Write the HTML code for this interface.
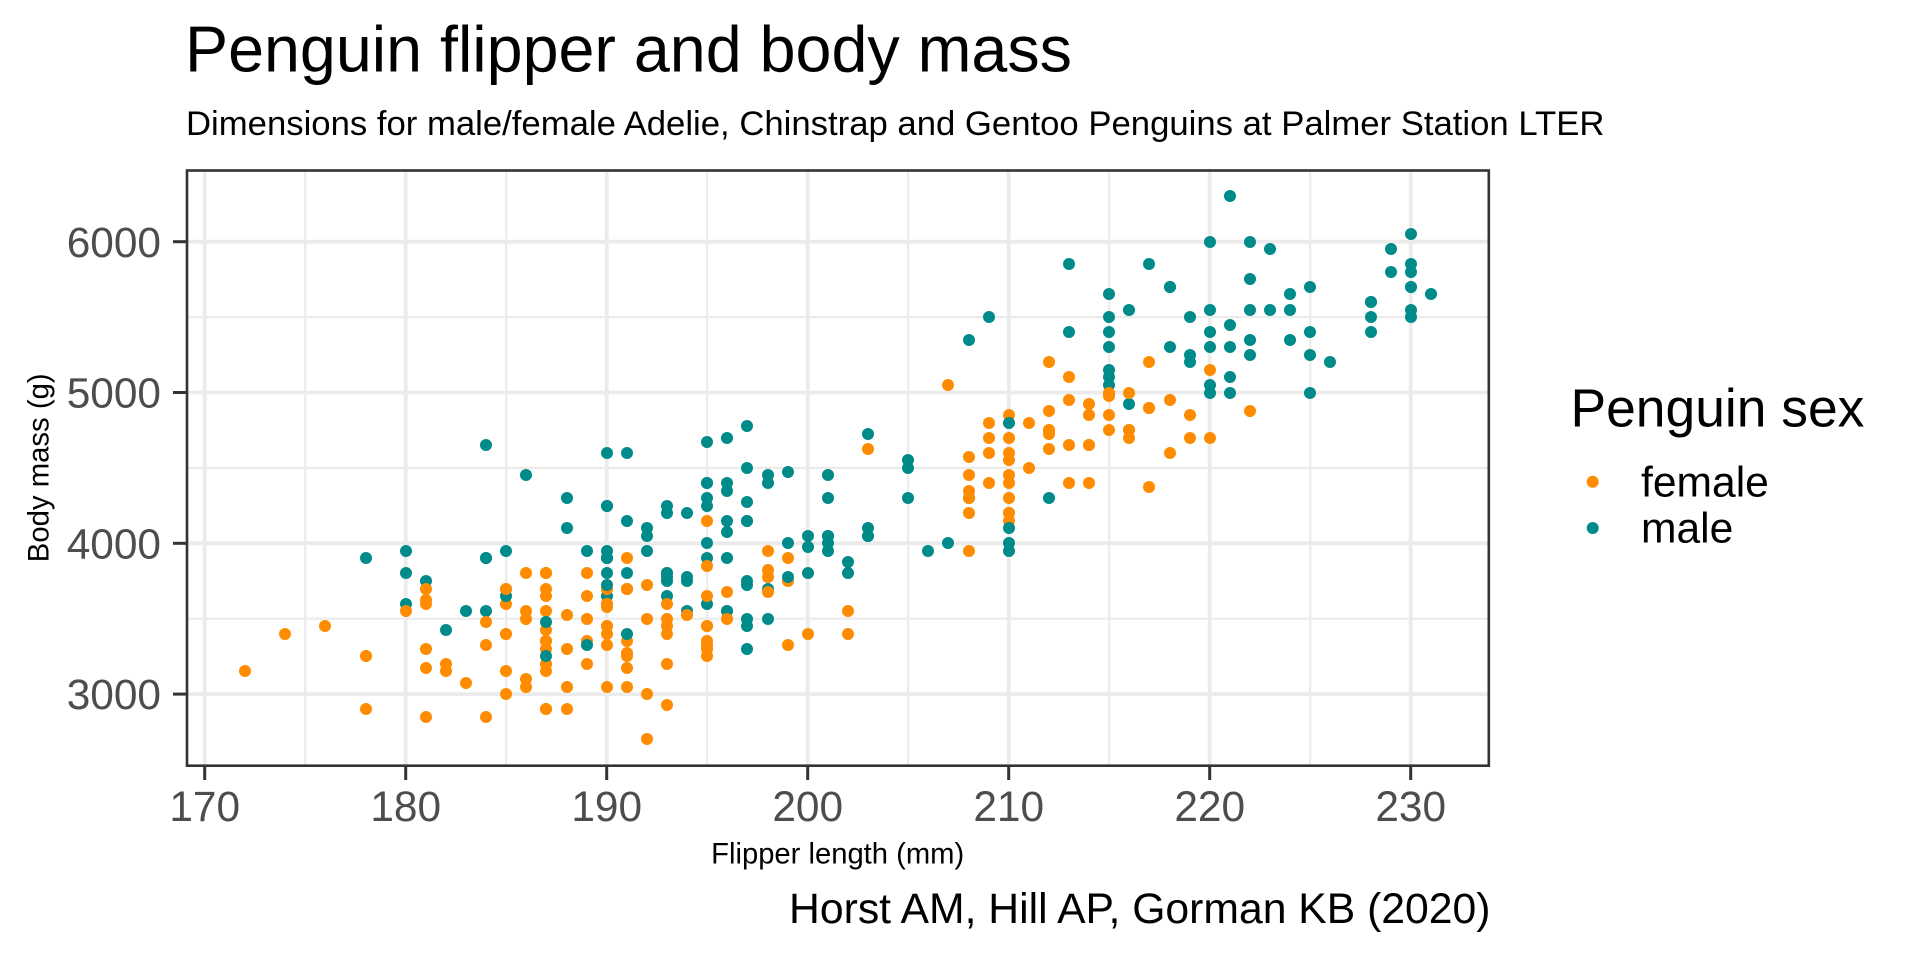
<!DOCTYPE html>
<html><head><meta charset="utf-8"><style>
html,body{margin:0;padding:0;background:#fff;}
#c{position:relative;width:1920px;height:960px;overflow:hidden;background:#fff;font-family:"Liberation Sans",Arial,sans-serif;}
#c svg{position:absolute;left:0;top:0;}
#pts{position:absolute;left:0;top:0;width:1920px;height:960px;}
#pts i{position:absolute;display:block;width:12px;height:12px;border-radius:50%;left:calc((var(--x) - 170)*20.1px + 198.7px);top:calc(688.1px - (var(--y) - 3000)*0.1508px);}
#pts i.f{background:#FF8C00}
#pts i.m{background:#008B8B}
</style></head><body><div id="c">
<svg width="1920" height="960" viewBox="0 0 1920 960" xmlns="http://www.w3.org/2000/svg">
<rect x="186" y="169.5" width="1303.5" height="597" fill="#fff"/>
<g stroke="#EBEBEB" stroke-width="2.2">
<line x1="305.2" y1="169" x2="305.2" y2="766"/><line x1="506.2" y1="169" x2="506.2" y2="766"/><line x1="707.2" y1="169" x2="707.2" y2="766"/><line x1="908.2" y1="169" x2="908.2" y2="766"/><line x1="1109.2" y1="169" x2="1109.2" y2="766"/><line x1="1310.2" y1="169" x2="1310.2" y2="766"/>
<line x1="186" y1="618.7" x2="1489" y2="618.7"/><line x1="186" y1="467.9" x2="1489" y2="467.9"/><line x1="186" y1="317.1" x2="1489" y2="317.1"/>
</g>
<g stroke="#EBEBEB" stroke-width="3.8">
<line x1="204.7" y1="169" x2="204.7" y2="766"/><line x1="405.7" y1="169" x2="405.7" y2="766"/><line x1="606.7" y1="169" x2="606.7" y2="766"/><line x1="807.7" y1="169" x2="807.7" y2="766"/><line x1="1008.7" y1="169" x2="1008.7" y2="766"/><line x1="1209.7" y1="169" x2="1209.7" y2="766"/><line x1="1410.7" y1="169" x2="1410.7" y2="766"/>
<line x1="186" y1="694.1" x2="1489" y2="694.1"/><line x1="186" y1="543.3" x2="1489" y2="543.3"/><line x1="186" y1="392.5" x2="1489" y2="392.5"/><line x1="186" y1="241.7" x2="1489" y2="241.7"/>
</g>
</svg>
<div id="pts">
<i class="m" style="--x:181;--y:3750"></i><i class="f" style="--x:186;--y:3800"></i><i class="f" style="--x:195;--y:3250"></i><i class="f" style="--x:193;--y:3450"></i><i class="m" style="--x:190;--y:3650"></i><i class="f" style="--x:181;--y:3625"></i><i class="m" style="--x:195;--y:4675"></i><i class="f" style="--x:182;--y:3200"></i><i class="m" style="--x:191;--y:3800"></i><i class="m" style="--x:198;--y:4400"></i><i class="f" style="--x:185;--y:3700"></i><i class="f" style="--x:195;--y:3450"></i><i class="m" style="--x:197;--y:4500"></i><i class="f" style="--x:184;--y:3325"></i><i class="m" style="--x:194;--y:4200"></i><i class="f" style="--x:174;--y:3400"></i><i class="m" style="--x:180;--y:3600"></i><i class="f" style="--x:189;--y:3800"></i><i class="m" style="--x:185;--y:3950"></i><i class="m" style="--x:180;--y:3800"></i><i class="f" style="--x:187;--y:3800"></i><i class="m" style="--x:183;--y:3550"></i><i class="f" style="--x:187;--y:3200"></i><i class="f" style="--x:172;--y:3150"></i><i class="m" style="--x:180;--y:3950"></i><i class="f" style="--x:178;--y:3250"></i><i class="m" style="--x:178;--y:3900"></i><i class="f" style="--x:188;--y:3300"></i><i class="m" style="--x:184;--y:3900"></i><i class="f" style="--x:195;--y:3325"></i><i class="m" style="--x:196;--y:4150"></i><i class="m" style="--x:190;--y:3950"></i><i class="f" style="--x:180;--y:3550"></i><i class="f" style="--x:181;--y:3300"></i><i class="m" style="--x:184;--y:4650"></i><i class="f" style="--x:182;--y:3150"></i><i class="m" style="--x:195;--y:3900"></i><i class="f" style="--x:186;--y:3100"></i><i class="m" style="--x:196;--y:4400"></i><i class="f" style="--x:185;--y:3000"></i><i class="m" style="--x:190;--y:4600"></i><i class="m" style="--x:182;--y:3425"></i><i class="f" style="--x:190;--y:3450"></i><i class="m" style="--x:191;--y:4150"></i><i class="f" style="--x:186;--y:3500"></i><i class="m" style="--x:188;--y:4300"></i><i class="f" style="--x:190;--y:3450"></i><i class="m" style="--x:200;--y:4050"></i><i class="f" style="--x:187;--y:2900"></i><i class="m" style="--x:191;--y:3700"></i><i class="f" style="--x:186;--y:3550"></i><i class="m" style="--x:193;--y:3800"></i><i class="f" style="--x:181;--y:2850"></i><i class="m" style="--x:194;--y:3750"></i><i class="f" style="--x:185;--y:3150"></i><i class="m" style="--x:195;--y:4400"></i><i class="f" style="--x:185;--y:3600"></i><i class="m" style="--x:192;--y:4050"></i><i class="f" style="--x:184;--y:2850"></i><i class="m" style="--x:192;--y:3950"></i><i class="f" style="--x:195;--y:3350"></i><i class="m" style="--x:188;--y:4100"></i><i class="f" style="--x:190;--y:3050"></i><i class="m" style="--x:198;--y:4450"></i><i class="f" style="--x:190;--y:3600"></i><i class="m" style="--x:190;--y:3900"></i><i class="f" style="--x:196;--y:3550"></i><i class="m" style="--x:197;--y:4150"></i><i class="f" style="--x:190;--y:3700"></i><i class="m" style="--x:195;--y:4250"></i><i class="f" style="--x:191;--y:3700"></i><i class="m" style="--x:184;--y:3900"></i><i class="f" style="--x:187;--y:3550"></i><i class="m" style="--x:195;--y:4000"></i><i class="f" style="--x:189;--y:3200"></i><i class="m" style="--x:196;--y:4700"></i><i class="f" style="--x:187;--y:3800"></i><i class="m" style="--x:193;--y:4200"></i><i class="f" style="--x:191;--y:3350"></i><i class="m" style="--x:194;--y:3550"></i><i class="m" style="--x:190;--y:3800"></i><i class="f" style="--x:189;--y:3500"></i><i class="m" style="--x:189;--y:3950"></i><i class="f" style="--x:190;--y:3600"></i><i class="f" style="--x:202;--y:3550"></i><i class="m" style="--x:205;--y:4300"></i><i class="f" style="--x:185;--y:3400"></i><i class="m" style="--x:186;--y:4450"></i><i class="f" style="--x:187;--y:3300"></i><i class="m" style="--x:208;--y:4300"></i><i class="f" style="--x:190;--y:3700"></i><i class="m" style="--x:196;--y:4350"></i><i class="f" style="--x:178;--y:2900"></i><i class="m" style="--x:192;--y:4100"></i><i class="f" style="--x:192;--y:3725"></i><i class="m" style="--x:203;--y:4725"></i><i class="f" style="--x:183;--y:3075"></i><i class="m" style="--x:190;--y:4250"></i><i class="f" style="--x:193;--y:2925"></i><i class="m" style="--x:184;--y:3550"></i><i class="f" style="--x:199;--y:3750"></i><i class="m" style="--x:190;--y:3900"></i><i class="f" style="--x:181;--y:3175"></i><i class="m" style="--x:197;--y:4775"></i><i class="f" style="--x:198;--y:3825"></i><i class="m" style="--x:191;--y:4600"></i><i class="f" style="--x:193;--y:3200"></i><i class="m" style="--x:197;--y:4275"></i><i class="f" style="--x:191;--y:3900"></i><i class="m" style="--x:196;--y:4075"></i><i class="f" style="--x:188;--y:2900"></i><i class="m" style="--x:199;--y:3775"></i><i class="f" style="--x:189;--y:3350"></i><i class="m" style="--x:189;--y:3325"></i><i class="f" style="--x:187;--y:3150"></i><i class="m" style="--x:198;--y:3500"></i><i class="f" style="--x:176;--y:3450"></i><i class="m" style="--x:202;--y:3875"></i><i class="f" style="--x:186;--y:3050"></i><i class="m" style="--x:199;--y:4000"></i><i class="f" style="--x:191;--y:3275"></i><i class="m" style="--x:195;--y:4300"></i><i class="f" style="--x:191;--y:3050"></i><i class="m" style="--x:210;--y:4000"></i><i class="f" style="--x:190;--y:3325"></i><i class="m" style="--x:197;--y:3500"></i><i class="f" style="--x:193;--y:3500"></i><i class="m" style="--x:199;--y:4475"></i><i class="f" style="--x:187;--y:3425"></i><i class="m" style="--x:190;--y:3900"></i><i class="f" style="--x:191;--y:3175"></i><i class="m" style="--x:200;--y:3975"></i><i class="f" style="--x:185;--y:3400"></i><i class="m" style="--x:193;--y:4250"></i><i class="f" style="--x:193;--y:3400"></i><i class="m" style="--x:187;--y:3475"></i><i class="f" style="--x:188;--y:3050"></i><i class="m" style="--x:190;--y:3725"></i><i class="f" style="--x:192;--y:3000"></i><i class="m" style="--x:185;--y:3650"></i><i class="m" style="--x:190;--y:4250"></i><i class="f" style="--x:184;--y:3475"></i><i class="f" style="--x:195;--y:3450"></i><i class="m" style="--x:193;--y:3750"></i><i class="f" style="--x:187;--y:3700"></i><i class="m" style="--x:201;--y:4000"></i>
<i class="f" style="--x:211;--y:4500"></i><i class="m" style="--x:230;--y:5700"></i><i class="f" style="--x:210;--y:4450"></i><i class="m" style="--x:218;--y:5700"></i><i class="m" style="--x:215;--y:5400"></i><i class="f" style="--x:210;--y:4550"></i><i class="f" style="--x:211;--y:4800"></i><i class="m" style="--x:219;--y:5200"></i><i class="f" style="--x:209;--y:4400"></i><i class="m" style="--x:215;--y:5150"></i><i class="f" style="--x:214;--y:4650"></i><i class="m" style="--x:216;--y:5550"></i><i class="f" style="--x:214;--y:4650"></i><i class="m" style="--x:213;--y:5850"></i><i class="f" style="--x:210;--y:4200"></i><i class="m" style="--x:217;--y:5850"></i><i class="f" style="--x:210;--y:4150"></i><i class="m" style="--x:221;--y:6300"></i><i class="f" style="--x:209;--y:4800"></i><i class="m" style="--x:222;--y:5350"></i><i class="m" style="--x:218;--y:5700"></i><i class="f" style="--x:215;--y:5000"></i><i class="f" style="--x:213;--y:4400"></i><i class="m" style="--x:215;--y:5050"></i><i class="f" style="--x:215;--y:5000"></i><i class="m" style="--x:215;--y:5100"></i><i class="m" style="--x:215;--y:5650"></i><i class="f" style="--x:210;--y:4600"></i><i class="m" style="--x:220;--y:5550"></i><i class="m" style="--x:222;--y:5250"></i><i class="f" style="--x:209;--y:4700"></i><i class="f" style="--x:207;--y:5050"></i><i class="m" style="--x:230;--y:6050"></i><i class="f" style="--x:220;--y:5150"></i><i class="m" style="--x:220;--y:5400"></i><i class="f" style="--x:213;--y:4950"></i><i class="m" style="--x:219;--y:5250"></i><i class="f" style="--x:208;--y:4350"></i><i class="m" style="--x:208;--y:5350"></i><i class="f" style="--x:208;--y:3950"></i><i class="m" style="--x:225;--y:5700"></i><i class="f" style="--x:210;--y:4300"></i><i class="m" style="--x:216;--y:4750"></i><i class="m" style="--x:222;--y:5550"></i><i class="f" style="--x:217;--y:4900"></i><i class="f" style="--x:210;--y:4200"></i><i class="m" style="--x:225;--y:5400"></i><i class="f" style="--x:213;--y:5100"></i><i class="m" style="--x:215;--y:5300"></i><i class="f" style="--x:210;--y:4850"></i><i class="m" style="--x:220;--y:5300"></i><i class="f" style="--x:210;--y:4400"></i><i class="m" style="--x:225;--y:5000"></i><i class="f" style="--x:217;--y:4900"></i><i class="m" style="--x:220;--y:5050"></i><i class="f" style="--x:208;--y:4300"></i><i class="m" style="--x:220;--y:5000"></i><i class="f" style="--x:208;--y:4450"></i><i class="m" style="--x:224;--y:5550"></i><i class="f" style="--x:208;--y:4200"></i><i class="m" style="--x:221;--y:5300"></i><i class="f" style="--x:214;--y:4400"></i><i class="m" style="--x:231;--y:5650"></i><i class="f" style="--x:219;--y:4700"></i><i class="m" style="--x:230;--y:5700"></i><i class="m" style="--x:229;--y:5800"></i><i class="f" style="--x:220;--y:4700"></i><i class="m" style="--x:223;--y:5550"></i><i class="f" style="--x:216;--y:4750"></i><i class="m" style="--x:221;--y:5000"></i><i class="m" style="--x:221;--y:5100"></i><i class="f" style="--x:217;--y:5200"></i><i class="f" style="--x:216;--y:4700"></i><i class="m" style="--x:230;--y:5800"></i><i class="f" style="--x:209;--y:4600"></i><i class="m" style="--x:220;--y:6000"></i><i class="f" style="--x:215;--y:4750"></i><i class="m" style="--x:223;--y:5950"></i><i class="f" style="--x:212;--y:4625"></i><i class="m" style="--x:221;--y:5450"></i><i class="f" style="--x:212;--y:4725"></i><i class="m" style="--x:224;--y:5350"></i><i class="f" style="--x:212;--y:4750"></i><i class="m" style="--x:228;--y:5600"></i><i class="f" style="--x:218;--y:4600"></i><i class="m" style="--x:218;--y:5300"></i><i class="f" style="--x:212;--y:4875"></i><i class="m" style="--x:230;--y:5550"></i><i class="f" style="--x:218;--y:4950"></i><i class="m" style="--x:228;--y:5400"></i><i class="f" style="--x:212;--y:4750"></i><i class="m" style="--x:224;--y:5650"></i><i class="f" style="--x:214;--y:4850"></i><i class="m" style="--x:226;--y:5200"></i><i class="m" style="--x:216;--y:4925"></i><i class="f" style="--x:222;--y:4875"></i><i class="f" style="--x:203;--y:4625"></i><i class="m" style="--x:225;--y:5250"></i><i class="f" style="--x:219;--y:4850"></i><i class="m" style="--x:228;--y:5600"></i><i class="f" style="--x:215;--y:4975"></i><i class="m" style="--x:228;--y:5500"></i><i class="m" style="--x:215;--y:5500"></i><i class="f" style="--x:210;--y:4700"></i><i class="m" style="--x:219;--y:5500"></i><i class="f" style="--x:208;--y:4575"></i><i class="m" style="--x:209;--y:5500"></i><i class="f" style="--x:216;--y:5000"></i><i class="m" style="--x:229;--y:5950"></i><i class="f" style="--x:213;--y:4650"></i><i class="m" style="--x:230;--y:5500"></i><i class="f" style="--x:217;--y:4375"></i><i class="m" style="--x:230;--y:5850"></i><i class="m" style="--x:222;--y:6000"></i><i class="f" style="--x:214;--y:4925"></i><i class="f" style="--x:215;--y:4850"></i><i class="m" style="--x:222;--y:5750"></i><i class="f" style="--x:212;--y:5200"></i><i class="m" style="--x:213;--y:5400"></i>
<i class="f" style="--x:192;--y:3500"></i><i class="m" style="--x:196;--y:3900"></i><i class="m" style="--x:193;--y:3650"></i><i class="f" style="--x:188;--y:3525"></i><i class="m" style="--x:197;--y:3725"></i><i class="f" style="--x:198;--y:3950"></i><i class="f" style="--x:178;--y:3250"></i><i class="m" style="--x:197;--y:3750"></i><i class="f" style="--x:195;--y:4150"></i><i class="m" style="--x:198;--y:3700"></i><i class="f" style="--x:193;--y:3800"></i><i class="m" style="--x:194;--y:3775"></i><i class="f" style="--x:185;--y:3700"></i><i class="m" style="--x:201;--y:4050"></i><i class="f" style="--x:190;--y:3575"></i><i class="m" style="--x:201;--y:4050"></i><i class="m" style="--x:197;--y:3300"></i><i class="f" style="--x:181;--y:3700"></i><i class="f" style="--x:190;--y:3450"></i><i class="m" style="--x:195;--y:4400"></i><i class="f" style="--x:181;--y:3600"></i><i class="m" style="--x:191;--y:3400"></i><i class="f" style="--x:187;--y:2900"></i><i class="m" style="--x:193;--y:3800"></i><i class="f" style="--x:195;--y:3300"></i><i class="m" style="--x:197;--y:4150"></i><i class="f" style="--x:200;--y:3400"></i><i class="m" style="--x:200;--y:3800"></i><i class="f" style="--x:191;--y:3700"></i><i class="m" style="--x:205;--y:4550"></i><i class="f" style="--x:187;--y:3200"></i><i class="m" style="--x:201;--y:4300"></i><i class="f" style="--x:187;--y:3350"></i><i class="m" style="--x:203;--y:4100"></i><i class="m" style="--x:195;--y:3600"></i><i class="f" style="--x:199;--y:3900"></i><i class="f" style="--x:195;--y:3850"></i><i class="m" style="--x:210;--y:4800"></i><i class="f" style="--x:192;--y:2700"></i><i class="m" style="--x:205;--y:4500"></i><i class="m" style="--x:210;--y:3950"></i><i class="f" style="--x:187;--y:3650"></i><i class="m" style="--x:196;--y:3550"></i><i class="f" style="--x:196;--y:3500"></i><i class="f" style="--x:196;--y:3675"></i><i class="m" style="--x:201;--y:4450"></i><i class="f" style="--x:190;--y:3400"></i><i class="m" style="--x:212;--y:4300"></i><i class="m" style="--x:187;--y:3250"></i><i class="f" style="--x:198;--y:3675"></i><i class="f" style="--x:199;--y:3325"></i><i class="m" style="--x:201;--y:3950"></i><i class="f" style="--x:193;--y:3600"></i><i class="m" style="--x:203;--y:4050"></i><i class="f" style="--x:187;--y:3350"></i><i class="m" style="--x:197;--y:3450"></i><i class="f" style="--x:191;--y:3250"></i><i class="m" style="--x:203;--y:4050"></i><i class="m" style="--x:202;--y:3800"></i><i class="f" style="--x:194;--y:3525"></i><i class="m" style="--x:206;--y:3950"></i><i class="f" style="--x:189;--y:3650"></i><i class="f" style="--x:195;--y:3650"></i><i class="m" style="--x:207;--y:4000"></i><i class="f" style="--x:202;--y:3400"></i><i class="m" style="--x:193;--y:3775"></i><i class="m" style="--x:210;--y:4100"></i><i class="f" style="--x:198;--y:3775"></i>
</div>
<svg width="1920" height="960" viewBox="0 0 1920 960" xmlns="http://www.w3.org/2000/svg" style="font-family:'Liberation Sans',Arial,sans-serif">
<rect x="187" y="170.5" width="1301.8" height="595.2" fill="none" stroke="#333333" stroke-width="2.6"/>
<g stroke="#333333" stroke-width="3">
<line x1="204.7" y1="766.5" x2="204.7" y2="780"/><line x1="405.7" y1="766.5" x2="405.7" y2="780"/><line x1="606.7" y1="766.5" x2="606.7" y2="780"/><line x1="807.7" y1="766.5" x2="807.7" y2="780"/><line x1="1008.7" y1="766.5" x2="1008.7" y2="780"/><line x1="1209.7" y1="766.5" x2="1209.7" y2="780"/><line x1="1410.7" y1="766.5" x2="1410.7" y2="780"/>
<line x1="173" y1="694.1" x2="186.5" y2="694.1"/><line x1="173" y1="543.3" x2="186.5" y2="543.3"/><line x1="173" y1="392.5" x2="186.5" y2="392.5"/><line x1="173" y1="241.7" x2="186.5" y2="241.7"/>
</g>
<g fill="#4D4D4D" font-size="42.4" text-anchor="middle">
<text x="204.7" y="821">170</text><text x="405.7" y="821">180</text><text x="606.7" y="821">190</text><text x="807.7" y="821">200</text><text x="1008.7" y="821">210</text><text x="1209.7" y="821">220</text><text x="1410.7" y="821">230</text>
</g>
<g fill="#4D4D4D" font-size="42.4" text-anchor="end">
<text x="161" y="709.2">3000</text><text x="161" y="558.4">4000</text><text x="161" y="407.6">5000</text><text x="161" y="256.8">6000</text>
</g>
<text x="837.7" y="863.3" font-size="29.2" text-anchor="middle" fill="#000">Flipper length (mm)</text>
<text transform="translate(48.6,467.8) rotate(-90)" font-size="29.3" text-anchor="middle" fill="#000">Body mass (g)</text>
<text x="185" y="71.7" font-size="64.6" fill="#000">Penguin flipper and body mass</text>
<text x="186" y="135" font-size="34.7" fill="#000">Dimensions for male/female Adelie, Chinstrap and Gentoo Penguins at Palmer Station LTER</text>
<text x="1490.5" y="923" font-size="42.7" text-anchor="end" fill="#000">Horst AM, Hill AP, Gorman KB (2020)</text>
<text x="1570.5" y="426.7" font-size="53.4" fill="#000">Penguin sex</text>
<circle cx="1592.7" cy="481.7" r="6" fill="#FF8C00"/>
<circle cx="1592.7" cy="528" r="6" fill="#008B8B"/>
<text x="1641" y="496.7" font-size="42.6" fill="#000">female</text>
<text x="1641" y="542.7" font-size="42.6" fill="#000">male</text>
</svg>
</div></body></html>
